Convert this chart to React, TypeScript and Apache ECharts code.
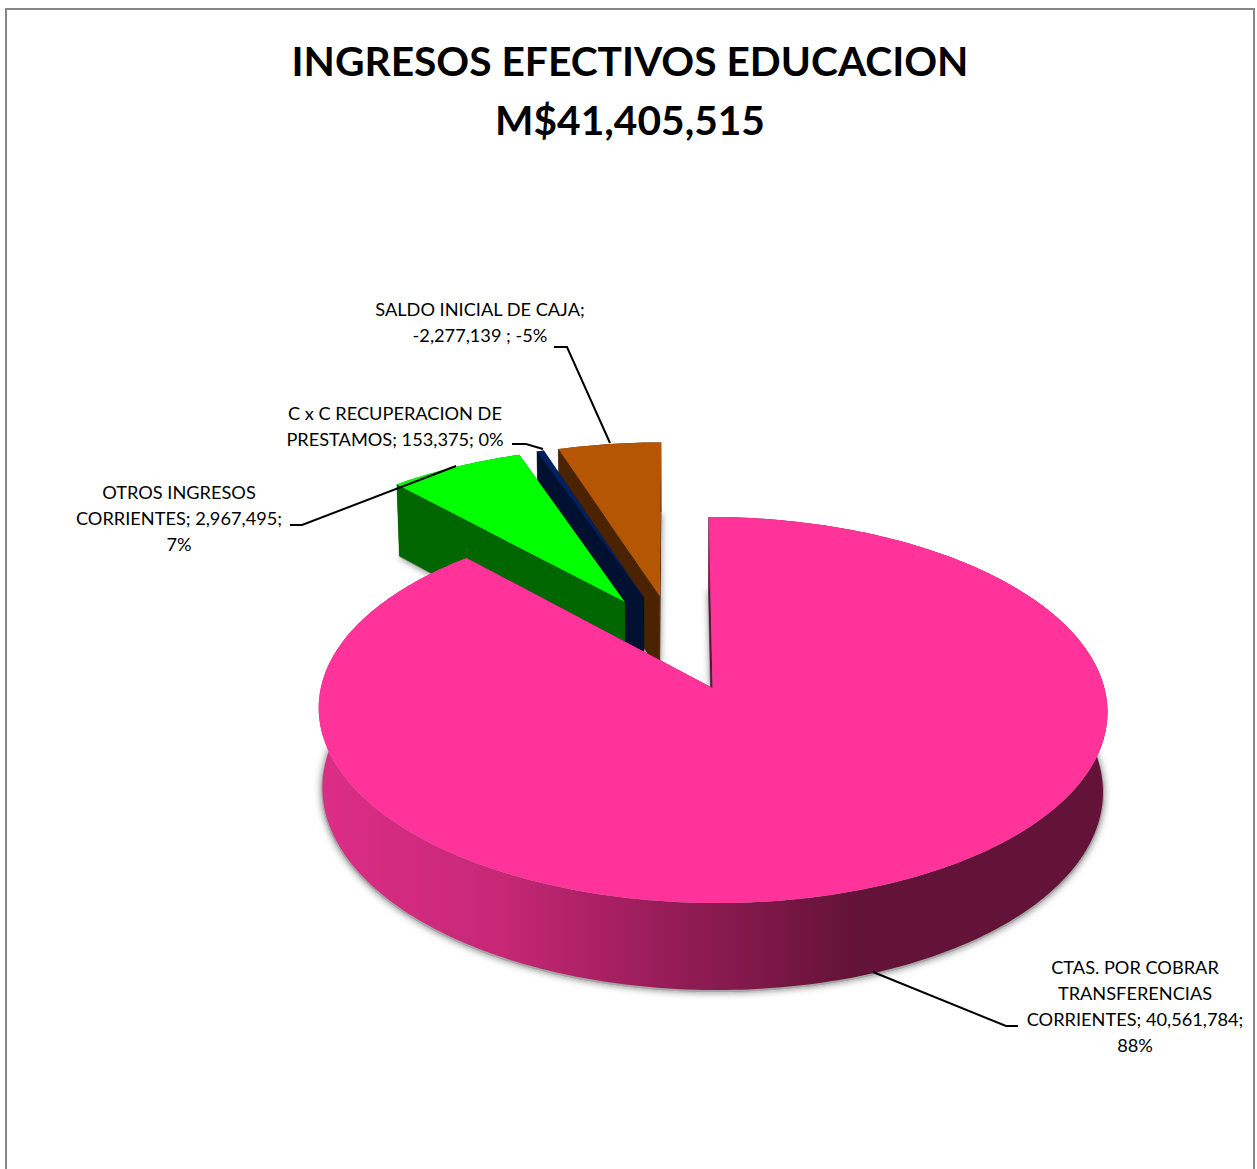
import React, { useEffect, useRef } from "react";
import * as echarts from "echarts";

const titleLines = ["INGRESOS EFECTIVOS EDUCACION", "M$41,405,515"];
const categories = [
  "CTAS. POR COBRAR TRANSFERENCIAS CORRIENTES",
  "OTROS INGRESOS CORRIENTES",
  "C x C RECUPERACION DE PRESTAMOS",
  "SALDO INICIAL DE CAJA",
];
const values = [40561784, 2967495, 153375, -2277139];
const labelTexts = [
  "CTAS. POR COBRAR\nTRANSFERENCIAS\nCORRIENTES; 40,561,784;\n88%",
  "OTROS INGRESOS\nCORRIENTES; 2,967,495;\n7%",
  "C x C RECUPERACION DE\nPRESTAMOS; 153,375; 0%",
  "SALDO INICIAL DE CAJA;\n-2,277,139 ; -5%",
];
const topColors = ["#FF3399", "#00FF00", "#002060", "#B45604"];
const wallColors = ["#631338", "#006600", "#001030", "#4B2300"];
const labelCenters = [
  [1135, 1006],
  [179, 518],
  [395, 425.5],
  [480, 322],
];
const leaderLines = [
  [[1018, 1026], [1006, 1026], [873, 972]],
  [[290, 525], [302, 525], [456, 466]],
  [[512, 444], [526, 444], [543, 449]],
  [[554, 347], [567, 347], [610, 443]],
];
const drawOrder = [3, 2, 1, 0];

// Projection of the tilted pie plane onto the page
const X0 = 675, Y0 = 642, SX = 381, SY = 180.2, PERSP = 0.111, DEPTH = 78.4, PERSP_Z = 0.01;
const EXPLODE = 0.266;

const total = values.reduce((s, v) => s + Math.abs(v), 0);
const angles: number[][] = [];
{
  let a = 0;
  values.forEach((v) => {
    const b = a + (Math.abs(v) / total) * Math.PI * 2;
    angles.push([a, b]);
    a = b;
  });
}
const project = (u: number, v: number, z: number): number[] => {
  const d = 1 + PERSP * v + PERSP_Z * z;
  return [X0 + (SX * u) / d, Y0 - (SY * v - DEPTH * z) / d];
};
const arcPts = (s: number, t: number, ox: number, oy: number, z: number, r = 1, dy = 0) => {
  const n = Math.max(2, Math.ceil(((t - s) * 180) / Math.PI));
  const pts: number[][] = [];
  for (let i = 0; i <= n; i++) {
    const th = s + ((t - s) * i) / n;
    const p = project(ox + r * Math.sin(th), oy + r * Math.cos(th), z);
    pts.push([p[0], p[1] + dy]);
  }
  return pts;
};
const pinkWall = {
  type: "linear", global: true, x: 320, y: 0, x2: 1108, y2: 0,
  colorStops: [
    { offset: 0, color: "#DC2D87" },
    { offset: 0.22, color: "#C82877" },
    { offset: 0.38, color: "#A41F60" },
    { offset: 0.68, color: "#631338" },
    { offset: 1, color: "#631338" },
  ],
};

const renderSlice = (_p: any, api: any) => {
  const i = api.value(1) as number;
  const [s, t] = angles[i];
  const mid = (s + t) / 2;
  const ox = EXPLODE * Math.sin(mid);
  const oy = EXPLODE * Math.cos(mid);
  const apexT = project(ox, oy, 0);
  const apexB = project(ox, oy, 1);
  const topArc = arcPts(s, t, ox, oy, 0);
  const botArc = arcPts(s, t, ox, oy, 1);
  const wallFill = i === 0 ? pinkWall : wallColors[i];
  const shadowArc = arcPts(s, t, ox, oy, 1, 1.003, 1.5);
  const apexS = [apexB[0], apexB[1] + 2];
  const poly = (points: number[][], style: any) => ({ type: "polygon", silent: true, shape: { points }, style });
  return {
    type: "group",
    children: [
      poly([apexS, ...shadowArc], {
        fill: "#a6a6a6",
        shadowBlur: 7,
        shadowColor: "rgba(0,0,0,0.5)",
      }),
      poly([apexT, topArc[0], botArc[0], apexB], { fill: wallColors[i], stroke: wallColors[i], lineWidth: 0.5 }),
      poly([apexT, topArc[topArc.length - 1], botArc[botArc.length - 1], apexB], { fill: wallColors[i] }),
      poly([...topArc, ...botArc.slice().reverse()], { fill: wallFill }),
      poly([apexT, ...topArc], { fill: topColors[i] }),
    ],
  };
};

const renderLabel = (_p: any, api: any) => {
  const i = api.value(0) as number;
  return {
    type: "group",
    children: [
      {
        type: "polyline",
        silent: true,
        shape: { points: leaderLines[i] },
        style: { stroke: "#000", lineWidth: 2, fill: "none" },
      },
      {
        type: "text",
        silent: true,
        style: {
          text: labelTexts[i],
          x: labelCenters[i][0],
          y: labelCenters[i][1],
          align: "center",
          verticalAlign: "middle",
          fontFamily: "Lato",
          fontSize: 18.2,
          lineHeight: 26,
          fill: "#000",
        },
      },
    ],
  };
};

export default function App() {
  const ref = useRef<HTMLDivElement>(null);
  useEffect(() => {
    const chart = echarts.init(ref.current!, null, { renderer: "svg" });
    chart.setOption({
      animation: false,
      backgroundColor: "#fff",
      title: {
        text: titleLines.join("\n"),
        left: 625,
        top: 26,
        textAlign: "center",
        textStyle: { fontFamily: "Lato", fontWeight: "bold", fontSize: 40.7, lineHeight: 59, color: "#000" },
      },
      graphic: [
        {
          type: "rect",
          z: 0,
          silent: true,
          shape: { x: 6, y: 9, width: 1248, height: 1220 },
          style: { fill: "#fff", stroke: "#868686", lineWidth: 2 },
        },
      ],
      series: [
        {
          type: "custom",
          name: "Ingresos",
          coordinateSystem: "none",
          z: 2,
          silent: true,
          data: drawOrder.map((i) => ({ name: categories[i], value: [Math.abs(values[i]), i] })),
          renderItem: renderSlice,
        },
        {
          type: "custom",
          name: "Etiquetas",
          coordinateSystem: "none",
          z: 3,
          silent: true,
          data: categories.map((c, i) => ({ name: c, value: [i] })),
          renderItem: renderLabel,
        },
      ],
    });
    return () => chart.dispose();
  }, []);
  return <div ref={ref} style={{ position: "absolute", left: 0, top: 0, width: 1257, height: 1169 }} />;
}
